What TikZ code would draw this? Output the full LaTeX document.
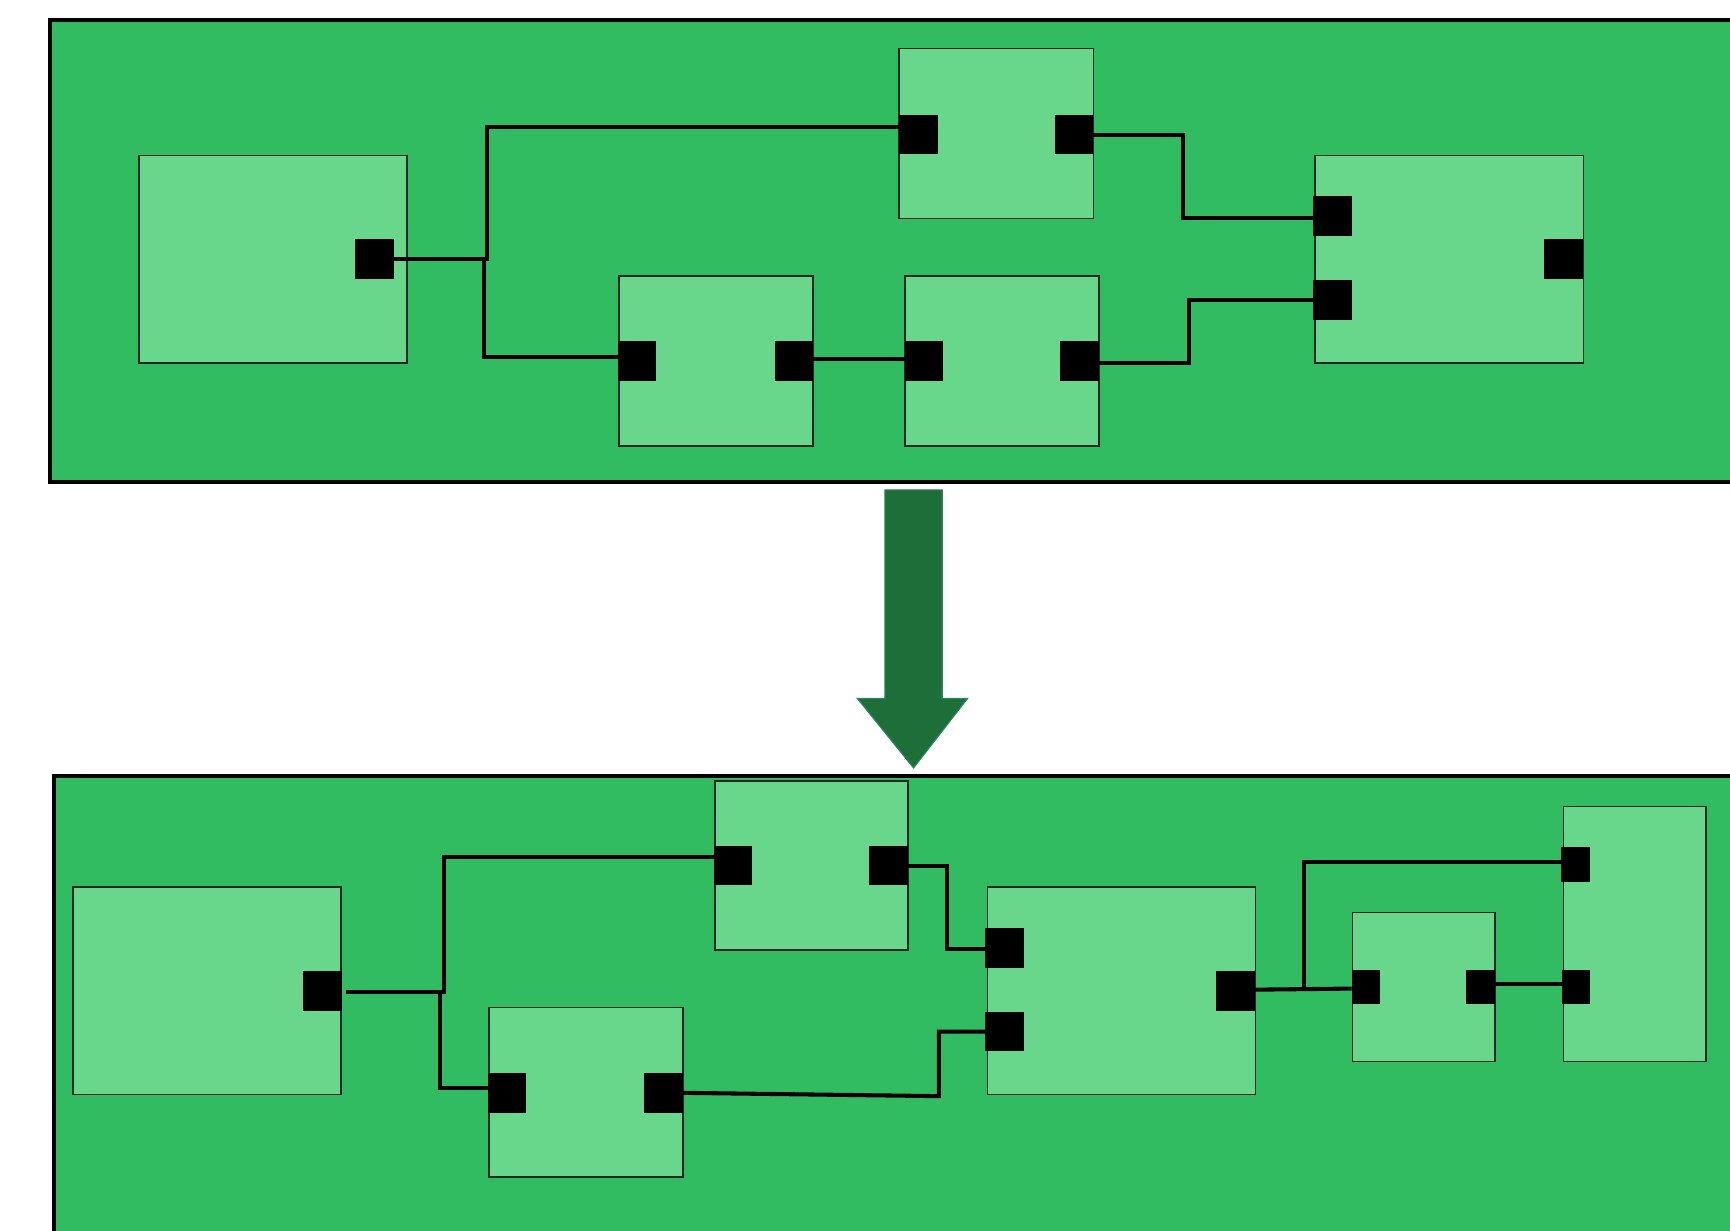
\documentclass[tikz,border=0pt]{standalone}
\usepackage{tikz}
\definecolor{outergreen}{RGB}{50,188,98}
\definecolor{innergreen}{RGB}{104,214,139}
\definecolor{arrowgreen}{RGB}{30,110,58}
\definecolor{arrowedge}{RGB}{45,135,95}

\begin{document}
\begin{tikzpicture}[
panel/.style={draw=black, line width=1pt, fill=outergreen},
block/.style={draw=black!85, line width=0.4pt, fill=innergreen, inner sep=0pt, outer sep=0pt},
bigblock/.style={block, minimum width=2.43cm, minimum height=1.88cm},
midblock/.style={block, minimum width=1.76cm, minimum height=1.54cm},
port/.style={fill=black, inner sep=0pt, outer sep=0pt, minimum width=0.35cm, minimum height=0.36cm},
smallport/.style={fill=black, inner sep=0pt, outer sep=0pt, minimum width=0.26cm, minimum height=0.31cm},
wire/.style={draw=black, line width=1.05pt}
]
\useasboundingbox (0,0) rectangle (15.68,-11.15);
\clip (0,0) rectangle (15.68,-11.15);

\draw[panel] (0.45,-0.18) rectangle (16.5,-4.37);

\node[bigblock](ta) at (2.475,-2.35) {};
\node[midblock](tb) at (9.03,-1.21) {};
\node[midblock](tc) at (6.49,-3.27) {};
\node[midblock](te) at (9.08,-3.27) {};
\node[bigblock](td) at (13.135,-2.35) {};

\node[port](tao) at (3.395,-2.35) {};
\node[port](tbi) at (8.325,-1.22) {};
\node[port](tbo) at (9.735,-1.22) {};
\node[port](tci) at (5.775,-3.275) {};
\node[port](tco) at (7.195,-3.275) {};
\node[port](tei) at (8.375,-3.275) {};
\node[port](teo) at (9.785,-3.275) {};
\node[port](tdi) at (12.075,-1.955) {};
\node[port](tdj) at (12.075,-2.72) {};
\node[port](tdo) at (14.17,-2.35) {};

\draw[wire](tao.east) -- ++(0.84,0) |- ([yshift=0.07cm]tbi.west);
\draw[wire](tao.east) -- ++(0.82,0) |- ([yshift=0.04cm]tci.west);
\draw[wire](tbo.east) -- ++(0.81,0) |- ([yshift=-0.025cm]tdi.west);
\draw[wire]([yshift=0.02cm]tco.east) to ([yshift=0.02cm]tei.west);
\draw[wire]([yshift=-0.015cm]teo.east) -- ++(0.82,0) |- (tdj.west);


\fill[arrowgreen, draw=arrowedge, line width=0.3pt] (8.02,-4.44) -- (8.54,-4.44) -- (8.54,-6.33) -- (8.77,-6.33) -- (8.28,-6.96) -- (7.77,-6.33) -- (8.02,-6.33) -- cycle;


\draw[panel] (0.49,-7.03) rectangle (16.5,-11.6);

\node[bigblock](ba) at (1.875,-8.98) {};
\node[block, minimum width=1.75cm, minimum height=1.53cm](bb) at (7.355,-7.845) {};
\node[midblock](bc) at (5.31,-9.90) {};
\node[bigblock](bd) at (10.165,-8.98) {};
\node[block, minimum width=1.29cm, minimum height=1.35cm](bf) at (12.905,-8.945) {};
\node[block, minimum width=1.29cm, minimum height=2.31cm](bg) at (14.815,-8.465) {};

\node[port](bao) at (2.925,-8.98) {};
\node[port](bbi) at (6.645,-7.845) {};
\node[port](bbo) at (8.055,-7.845) {};
\node[port](bci) at (4.595,-9.905) {};
\node[port](bco) at (6.015,-9.905) {};
\node[port](bdi) at (9.105,-8.59) {};
\node[port](bdj) at (9.105,-9.35) {};
\node[port](bdo) at (11.20,-8.98) {};
\node[smallport](bfi) at (12.38,-8.945) {};
\node[smallport](bfo) at (13.42,-8.945) {};
\node[smallport](bgi) at (14.28,-7.835) {};
\node[smallport](bgj) at (14.285,-8.945) {};

\draw[wire]([xshift=0.04cm,yshift=-0.01cm]bao.east) -- ++(0.88,0) |- ([yshift=0.075cm]bbi.west);
\draw[wire]([xshift=0.04cm,yshift=-0.01cm]bao.east) -- ++(0.85,0) |- ([yshift=0.045cm]bci.west);
\draw[wire](bbo.east) -- ++(0.35,0) |- ([yshift=-0.01cm]bdi.west);
\draw[wire](bco.east) -- ++(2.32,-0.03) |- (bdj.west);
\draw[wire]([yshift=0.01cm]bdo.east) to ([yshift=-0.015cm]bfi.west);
\draw[wire](11.82,-8.965) |- ([yshift=0.025cm]bgi.west);
\draw[wire]([yshift=0.025cm]bfo.east) to ([yshift=0.025cm]bgj.west);

\end{tikzpicture}
\end{document}
